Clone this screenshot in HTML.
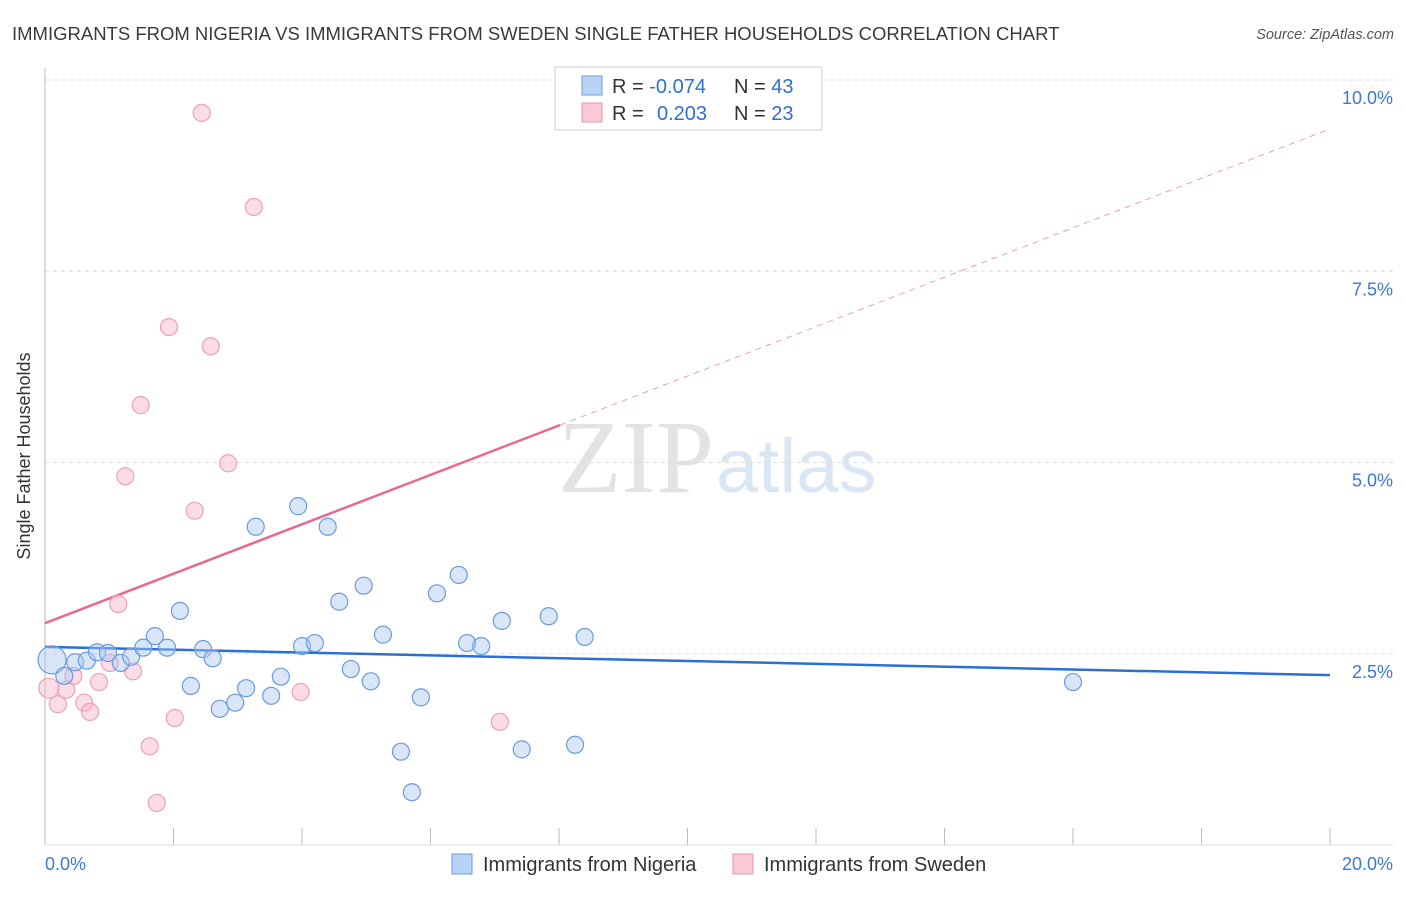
<!DOCTYPE html>
<html><head><meta charset="utf-8"><style>
body{margin:0;background:#fff;font-family:"Liberation Sans",sans-serif;}
</style></head><body>
<svg width="1406" height="892" xmlns="http://www.w3.org/2000/svg">
<text x="12" y="40" font-size="18.5" fill="#3a3a3a">IMMIGRANTS FROM NIGERIA VS IMMIGRANTS FROM SWEDEN SINGLE FATHER HOUSEHOLDS CORRELATION CHART</text>
<text x="1394" y="39" font-size="14.5" fill="#555" font-style="italic" text-anchor="end">Source: ZipAtlas.com</text>
<text x="714" y="492" font-size="104" fill="#e3e3e3" text-anchor="end" font-family="Liberation Serif,serif">ZIP</text>
<text x="716" y="492" font-size="76" fill="#dbe6f5">atlas</text>
<g id="grid"></g>
<line x1="45" y1="68" x2="45" y2="845" stroke="#bbb"/>
<line x1="45" y1="845" x2="1393" y2="845" stroke="#ddd"/>
<text x="30" y="456" font-size="18" fill="#333" text-anchor="middle" transform="rotate(-90 30 456)">Single Father Households</text>
<text x="45" y="870" font-size="18" fill="#3a78d4">0.0%</text>
<text x="1393" y="870" font-size="18" fill="#3a78d4" text-anchor="end">20.0%</text>
<g id="lines"></g>
<g id="pts"></g>
<g>
<rect x="555" y="67" width="267" height="63" fill="#fff" stroke="#ccc"/>
<rect x="582" y="76" width="20" height="19" fill="#b9d3f4" stroke="#6a9be0"/>
<rect x="582" y="103" width="20" height="19" fill="#fbc8d6" stroke="#ee91ab"/>
<text x="612" y="93" font-size="20" fill="#333">R = <tspan fill="#2f6fd0">-0.074</tspan><tspan x="734">N = </tspan><tspan fill="#2f6fd0">43</tspan></text>
<text x="612" y="120" font-size="20" fill="#333">R = <tspan x="657" fill="#2f6fd0">0.203</tspan><tspan x="734">N = </tspan><tspan fill="#2f6fd0">23</tspan></text>
</g>
<g>
<rect x="452" y="854" width="20" height="20" fill="#b9d3f4" stroke="#6a9be0"/>
<text x="483" y="871" font-size="20" fill="#333">Immigrants from Nigeria</text>
<rect x="733" y="854" width="20" height="20" fill="#fbc8d6" stroke="#ee91ab"/>
<text x="764" y="871" font-size="20" fill="#333">Immigrants from Sweden</text>
</g>
</svg>
<script>
const yTicks=[2.5,5,7.5,10];
const yTickLabels=["2.5%","5.0%","7.5%","10.0%"];
const xTicks=[2,4,6,8,10,12,14,16,18,20];
const nigeriaX=[0.11,0.30,0.47,0.65,0.81,0.98,1.18,1.34,1.53,1.71,1.90,2.10,2.27,2.46,2.61,2.72,2.96,3.13,3.28,3.52,3.67,3.94,4.00,4.20,4.40,4.58,4.76,4.96,5.07,5.26,5.54,5.71,5.85,6.10,6.44,6.57,6.79,7.11,7.42,7.84,8.25,8.40,16.0];
const nigeriaY=[2.42,2.21,2.39,2.41,2.52,2.51,2.38,2.46,2.58,2.73,2.58,3.06,2.08,2.56,2.44,1.78,1.86,2.05,4.16,1.95,2.20,4.43,2.60,2.64,4.16,3.18,2.30,3.39,2.14,2.75,1.22,0.69,1.93,3.29,3.53,2.64,2.60,2.93,1.25,2.99,1.31,2.72,2.13];
const swedenX=[2.44,3.25,1.93,2.58,1.49,2.85,1.25,2.33,1.14,0.06,0.20,0.33,0.44,0.61,0.70,0.84,1.01,1.37,1.63,1.74,2.02,3.98,7.08];
const swedenY=[9.57,8.34,6.77,6.52,5.75,4.99,4.82,4.37,3.15,2.05,1.84,2.03,2.21,1.86,1.74,2.13,2.38,2.27,1.29,0.55,1.66,2.00,1.61];
const nigeriaTrend=[2.59,2.22];
const swedenTrend=[2.90,0.323];
const NS="http://www.w3.org/2000/svg";
const sx=v=>45+v*64.25, sy=v=>845-v*76.5;
function mk(t,a,p){const e=document.createElementNS(NS,t);for(const k in a)e.setAttribute(k,a[k]);p.appendChild(e);return e;}
const grid=document.getElementById('grid');
yTicks.forEach((v,i)=>{
 const l=mk('line',{x1:45,x2:1393,y1:sy(v),y2:sy(v),stroke:'#ddd','stroke-dasharray':'4,4'},grid);
 
 
 const t=mk('text',{x:1393,y:sy(v)+24,'font-size':18,fill:'#3a78d4','text-anchor':'end'},grid);
 t.textContent=yTickLabels[i];
 
 
});
xTicks.forEach(v=>{
 const l=mk('line',{x1:sx(v),x2:sx(v),y1:828,y2:845,stroke:'#bbb'},grid);
 
 
});
const lines=document.getElementById('lines');
let l1=mk('line',{x1:sx(0),y1:sy(nigeriaTrend[0]),x2:sx(20),y2:sy(nigeriaTrend[1]),stroke:'#2a6fd6','stroke-width':2.5},lines);


const xe=8.02;
let l2=mk('line',{x1:sx(0),y1:sy(swedenTrend[0]),x2:sx(xe),y2:sy(swedenTrend[0]+swedenTrend[1]*xe),stroke:'#e8698f','stroke-width':2.5},lines);


let l3=mk('line',{x1:sx(xe),y1:sy(swedenTrend[0]+swedenTrend[1]*xe),x2:sx(20),y2:sy(swedenTrend[0]+swedenTrend[1]*20),stroke:'#e8a0b5','stroke-width':1,'stroke-dasharray':'6,5'},lines);


const pts=document.getElementById('pts');
swedenX.forEach((x,i)=>{
 const c=mk('circle',{cx:sx(x),cy:sy(swedenY[i]),r:i==9?10:8.5,fill:'rgba(248,180,200,0.45)',stroke:'#eda0b7','stroke-width':1.2},pts);
 
 
});
nigeriaX.forEach((x,i)=>{
 const c=mk('circle',{cx:sx(x),cy:sy(nigeriaY[i]),r:i==0?14:8.5,fill:'rgba(170,200,240,0.45)',stroke:'#6a9be0','stroke-width':1.2},pts);
 
 
});
</script>
</body></html>
